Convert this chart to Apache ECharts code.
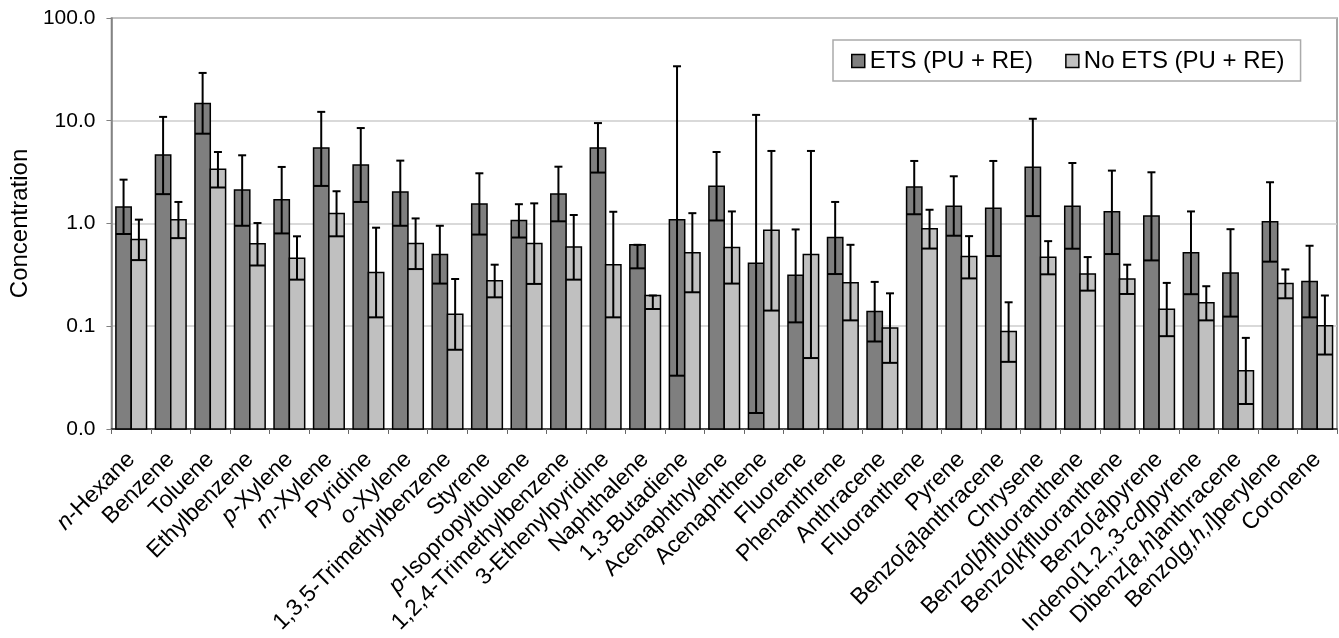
<!DOCTYPE html>
<html>
<head>
<meta charset="utf-8">
<title>Concentration by compound</title>
<script src="https://cdn.jsdelivr.net/npm/echarts@6/dist/echarts.min.js"></script>
<style>
  html, body { margin: 0; padding: 0; background: #fff; }
  #chart { width: 1339px; height: 638px; }
</style>
</head>
<body>
<div id="chart"></div>
<script>
// Compounds on the category axis
const categories = [
  'n-Hexane', 'Benzene', 'Toluene', 'Ethylbenzene', 'p-Xylene', 'm-Xylene',
  'Pyridine', 'o-Xylene', '1,3,5-Trimethylbenzene', 'Styrene',
  'p-Isopropyltoluene', '1,2,4-Trimethylbenzene', '3-Ethenylpyridine',
  'Naphthalene', '1,3-Butadiene', 'Acenaphthylene', 'Acenaphthene', 'Fluorene',
  'Phenanthrene', 'Anthracene', 'Fluoranthene', 'Pyrene', 'Benzo[a]anthracene',
  'Chrysene', 'Benzo[b]fluoranthene', 'Benzo[k]fluoranthene', 'Benzo[a]pyrene',
  'Indeno[1,2,,3-cd]pyrene', 'Dibenz[a,h]anthracene', 'Benzo[g,h,i]perylene',
  'Coronene'
];

// ETS (PU + RE): mean, lower and upper error limits
const etsValue = [1.45, 4.64, 14.7, 2.12, 1.70, 5.43, 3.71, 2.02, 0.50, 1.55,
  1.07, 1.94, 5.43, 0.62, 1.09, 2.30, 0.41, 0.313, 0.73, 0.139, 2.27, 1.47,
  1.41, 3.52, 1.47, 1.30, 1.18, 0.52, 0.33, 1.04, 0.273];
const etsLow = [0.79, 1.93, 7.48, 0.95, 0.80, 2.32, 1.62, 0.95, 0.26, 0.78,
  0.73, 1.05, 3.13, 0.366, 0.033, 1.07, 0.0143, 0.109, 0.322, 0.071, 1.23, 0.76,
  0.482, 1.18, 0.568, 0.504, 0.437, 0.205, 0.124, 0.425, 0.122];
const etsHigh = [2.67, 10.9, 29.2, 4.61, 3.55, 12.2, 8.49, 4.09, 0.95, 3.08,
  1.54, 3.57, 9.49, 0.62, 33.9, 4.96, 11.4, 0.875, 1.62, 0.27, 4.06, 2.88,
  4.06, 10.45, 3.88, 3.27, 3.15, 1.31, 0.88, 2.52, 0.607];

// No ETS (PU + RE): mean, lower and upper error limits
const noEtsValue = [0.70, 1.09, 3.37, 0.635, 0.46, 1.25, 0.334, 0.64, 0.131, 0.277,
  0.64, 0.59, 0.397, 0.199, 0.52, 0.585, 0.86, 0.50, 0.265, 0.096, 0.89, 0.478,
  0.089, 0.468, 0.322, 0.288, 0.146, 0.169, 0.0368, 0.261, 0.101];
const noEtsLow = [0.44, 0.72, 2.24, 0.39, 0.284, 0.75, 0.122, 0.36, 0.059, 0.191,
  0.258, 0.284, 0.122, 0.147, 0.214, 0.26, 0.142, 0.049, 0.114, 0.044, 0.57, 0.292,
  0.045, 0.32, 0.222, 0.206, 0.080, 0.114, 0.0175, 0.187, 0.053];
const noEtsHigh = [1.09, 1.62, 4.96, 1.01, 0.75, 2.06, 0.91, 1.12, 0.288, 0.397,
  1.57, 1.21, 1.30, 0.199, 1.26, 1.31, 5.08, 5.08, 0.62, 0.209, 1.36, 0.753,
  0.171, 0.673, 0.471, 0.397, 0.264, 0.245, 0.077, 0.357, 0.199];

// Y axis bounds (log scale)
const yMin = 0.01;
const yMax = 100;

const FONT = '"Liberation Sans", Arial, Helvetica, sans-serif';
const CATEGORY_GAP = 0.225;   // share of each category left empty
const DARK = '#7f7f7f';
const LIGHT = '#c0c0c0';

// Italicise locants such as n-, p-, m-, o- and bracketed ring letters
function styleLabel(name) {
  let m = name.match(/^([a-z])-(.*)$/);
  if (m) return '{it|' + m[1] + '}-' + m[2];
  m = name.match(/^(.*\[)([^\]]*)(\].*)$/);
  if (m) {
    const inner = m[2].replace(/[a-z](,[a-z])*/g, s => '{it|' + s + '}');
    return m[1] + inner + m[3];
  }
  return name;
}

// Horizontal geometry of one bar within its category band (side -1 = left, +1 = right)
function barGeom(api, idx, side) {
  const band = api.size([1, 0])[0];
  const barW = band * (1 - CATEGORY_GAP) / 2;
  const cx = api.coord([idx, yMin])[0];
  return { x: cx + side * barW / 2, w: barW };
}

// Bars rise from the bottom of the log axis up to the mean value
function barRenderer(side, color) {
  return function (params, api) {
    const idx = api.value(0);
    const g = barGeom(api, idx, side);
    const base = api.coord([idx, yMin]);
    const top = api.coord([idx, api.value(1)]);
    return {
      type: 'rect',
      shape: { x: g.x - g.w / 2, y: top[1], width: g.w, height: base[1] - top[1] },
      style: { fill: color, stroke: '#000', lineWidth: 1.5 }
    };
  };
}

// Error bar: whisker through the bar centre, short cap on top, full-width cap at the lower limit
function errorRenderer(side) {
  return function (params, api) {
    const idx = api.value(0);
    const g = barGeom(api, idx, side);
    const top = api.coord([idx, api.value(2)]);
    const bottom = api.coord([idx, api.value(1)]);
    const capHalf = 4;
    const style = { stroke: '#000', lineWidth: 2 };
    return {
      type: 'group',
      children: [
        { type: 'line', shape: { x1: g.x, y1: top[1], x2: g.x, y2: bottom[1] }, style },
        { type: 'line', shape: { x1: g.x - capHalf, y1: top[1], x2: g.x + capHalf, y2: top[1] }, style },
        { type: 'line', shape: { x1: g.x - g.w / 2, y1: bottom[1], x2: g.x + g.w / 2, y2: bottom[1] }, style }
      ]
    };
  };
}

const etsBars = categories.map((c, i) => [i, etsValue[i]]);
const noEtsBars = categories.map((c, i) => [i, noEtsValue[i]]);
const etsErr = categories.map((c, i) => [i, etsLow[i], etsHigh[i]]);
const noEtsErr = categories.map((c, i) => [i, noEtsLow[i], noEtsHigh[i]]);

const chart = echarts.init(document.getElementById('chart'), null, { renderer: 'canvas' });

chart.setOption({
  animation: false,
  backgroundColor: '#fff',
  textStyle: { fontFamily: FONT, color: '#000' },
  grid: {
    left: 98, right: 2, top: 18, bottom: 208,
    show: true, borderColor: '#8a8a8a', borderWidth: 1.5, backgroundColor: 'transparent'
  },
  legend: {
    data: ['ETS (PU + RE)', 'No ETS (PU + RE)'],
    left: 833, top: 40,
    padding: [9, 16, 8, 18],
    itemGap: 32,
    itemWidth: 13, itemHeight: 13,
    icon: 'rect',
    borderColor: '#aaaaaa', borderWidth: 1.5,
    itemStyle: { borderColor: '#000', borderWidth: 1.5 },
    textStyle: { fontSize: 24, fontFamily: FONT, color: '#000' }
  },
  xAxis: {
    type: 'category',
    data: categories,
    axisLine: { lineStyle: { color: '#222', width: 1.5 } },
    axisTick: { show: true, interval: 0, length: 5, lineStyle: { color: '#666', width: 1 } },
    axisLabel: {
      interval: 0, rotate: 45, fontSize: 23, margin: 27, color: '#000', fontFamily: FONT,
      formatter: styleLabel,
      rich: { it: { fontStyle: 'italic', fontSize: 23, fontFamily: FONT, color: '#000' } }
    },
    splitLine: { show: false }
  },
  yAxis: {
    type: 'log',
    logBase: 10,
    min: yMin,
    max: yMax,
    name: 'Concentration',
    nameLocation: 'middle',
    nameRotate: 90,
    nameGap: 70,
    nameTextStyle: { fontSize: 24, fontFamily: FONT, color: '#000' },
    axisLine: { show: true, lineStyle: { color: '#808080', width: 1.5 } },
    axisTick: { show: true, length: 5, lineStyle: { color: '#808080' } },
    axisLabel: {
      fontSize: 21, margin: 16, color: '#000', fontFamily: FONT,
      formatter: v => Number(v).toFixed(1)
    },
    splitLine: { show: true, lineStyle: { color: '#cccccc', width: 1.5 } }
  },
  series: [
    {
      name: 'ETS (PU + RE)',
      type: 'custom',
      renderItem: barRenderer(-1, DARK),
      itemStyle: { color: DARK },
      data: etsBars,
      encode: { x: 0, y: 1 },
      z: 2
    },
    {
      name: 'No ETS (PU + RE)',
      type: 'custom',
      renderItem: barRenderer(1, LIGHT),
      itemStyle: { color: LIGHT },
      data: noEtsBars,
      encode: { x: 0, y: 1 },
      z: 2
    },
    {
      name: 'ETS error',
      type: 'custom',
      renderItem: errorRenderer(-1),
      data: etsErr,
      encode: { x: 0, y: [1, 2] },
      z: 5
    },
    {
      name: 'No ETS error',
      type: 'custom',
      renderItem: errorRenderer(1),
      data: noEtsErr,
      encode: { x: 0, y: [1, 2] },
      z: 5
    }
  ]
});
</script>
</body>
</html>
